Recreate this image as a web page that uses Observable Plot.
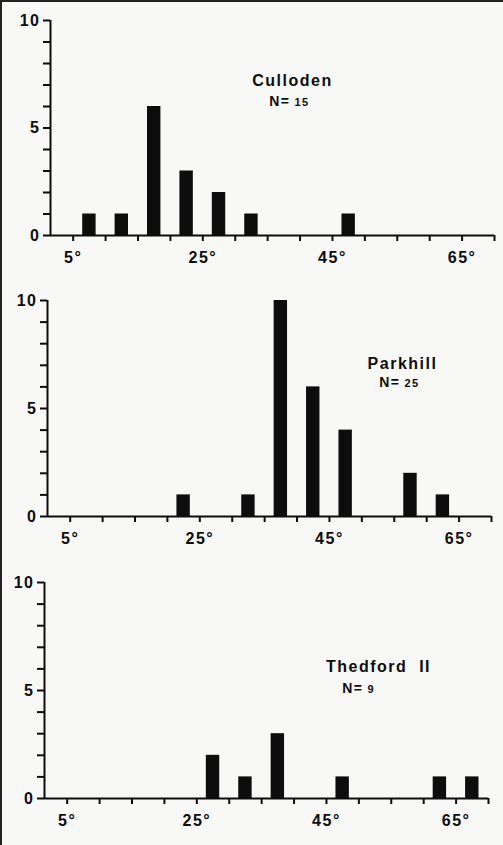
<!DOCTYPE html>
<html>
<head>
<meta charset="utf-8">
<script src="https://cdn.jsdelivr.net/npm/d3@7"></script>
<script src="https://cdn.jsdelivr.net/npm/@observablehq/plot@0.6"></script>
<style>
  body { margin: 0; background: #fff; }
  #fig {
    position: relative; width: 503px; height: 845px; overflow: hidden;
    background: #f8f8f7; font-family: "Liberation Sans", Arial, sans-serif;
  }
  #fig::before {
    content: ""; position: absolute; left: 0; top: 0; right: 0; bottom: 0;
    border-top: 2px solid #222; border-left: 2px solid #222; pointer-events: none; z-index: 2;
  }
  .panel { position: absolute; left: 0; }
</style>
</head>
<body>
<div id="fig"></div>
<script>
// Lower edge of each 5° angle class (classes 5–10°, 10–15°, … 65–70°)
const binStarts = [5, 10, 15, 20, 25, 30, 35, 40, 45, 50, 55, 60, 65];
const binWidth = 5;

// Number of specimens in each angle class
const cullodenCounts = [1, 1, 6, 3, 2, 1, 0, 0, 1, 0, 0, 0, 0];
const parkhillCounts = [0, 0, 0, 1, 0, 1, 10, 6, 4, 0, 2, 1, 0];
const thedfordCounts = [0, 0, 0, 0, 2, 1, 3, 0, 1, 0, 0, 1, 1];

const siteNames = ["Culloden", "Parkhill", "Thedford\u00a0\u00a0II"];
const sampleSizes = ["15", "25", "9"];

// Axis ticks
const xTicks = [5, 10, 15, 20, 25, 30, 35, 40, 45, 50, 55, 60, 65, 70];
const xLabelled = [5, 25, 45, 65];
const yTicks = [0, 1, 2, 3, 4, 5, 6, 7, 8, 9, 10];
const yLabelled = [0, 5, 10];

const xDomain = [1.5, 70];
const yDomain = [0, 10];

// Page layout of the three stacked panels
const layout = [
  { top: 0,   height: 280, mt: 20, mb: 45, ml: 50, mr: 9,  title: [292, 80],  n: [290, 101] },
  { top: 280, height: 280, mt: 20, mb: 44, ml: 47, mr: 12, title: [402, 83],  n: [400, 102] },
  { top: 560, height: 285, mt: 22, mb: 47, ml: 44, mr: 15, title: [378, 106], n: [363, 128] }
];

const seriesCounts = [cullodenCounts, parkhillCounts, thedfordCounts];
const fig = document.getElementById("fig");
const ink = "#0d0d0d";

seriesCounts.forEach((counts, i) => {
  const L = layout[i];
  const bars = binStarts
    .map((lo, j) => ({ lo, hi: lo + binWidth, count: counts[j] }))
    .filter(d => d.count > 0);

  const chart = Plot.plot({
    width: 503,
    height: L.height,
    marginTop: L.mt,
    marginBottom: L.mb,
    marginLeft: L.ml,
    marginRight: L.mr,
    style: {
      background: "transparent",
      color: ink,
      fontFamily: "'Liberation Sans', Arial, sans-serif",
      fontWeight: "bold",
      letterSpacing: "1.5px"
    },
    x: { domain: xDomain },
    y: { domain: yDomain },
    marks: [
      Plot.rectY(bars, { x1: "lo", x2: "hi", y: "count", insetLeft: 9.5, insetRight: 9.5, fill: ink }),
      Plot.ruleY([0], { x1: xDomain[0], x2: xDomain[1], stroke: ink, strokeWidth: 2 }),
      Plot.ruleX([xDomain[0]], { y1: yDomain[0], y2: yDomain[1], stroke: ink, strokeWidth: 2 }),
      Plot.axisX(xTicks, {
        tickSize: 6, tickPadding: 10, strokeWidth: 2, fontSize: 16, label: null,
        tickFormat: d => xLabelled.includes(d) ? `${d}°` : ""
      }),
      Plot.axisY(yTicks, {
        tickSize: 7, tickPadding: 3, strokeWidth: 2, fontSize: 16, label: null,
        tickFormat: d => yLabelled.includes(d) ? `${d}` : ""
      }),
      Plot.text([siteNames[i]], {
        frameAnchor: "top-left", dx: L.title[0] - L.ml, dy: L.title[1] - L.mt,
        textAnchor: "middle", lineAnchor: "middle", fontSize: 16, fill: ink
      }),
      Plot.text(["N="], {
        frameAnchor: "top-left", dx: L.n[0] - L.ml, dy: L.n[1] - L.mt,
        textAnchor: "end", lineAnchor: "middle", fontSize: 14, fill: ink
      }),
      Plot.text([sampleSizes[i]], {
        frameAnchor: "top-left", dx: L.n[0] - L.ml + 4, dy: L.n[1] - L.mt + 1,
        textAnchor: "start", lineAnchor: "middle", fontSize: 11, fill: ink
      })
    ]
  });
  chart.classList.add("panel");
  chart.style.top = L.top + "px";
  fig.appendChild(chart);
});
</script>
</body>
</html>
